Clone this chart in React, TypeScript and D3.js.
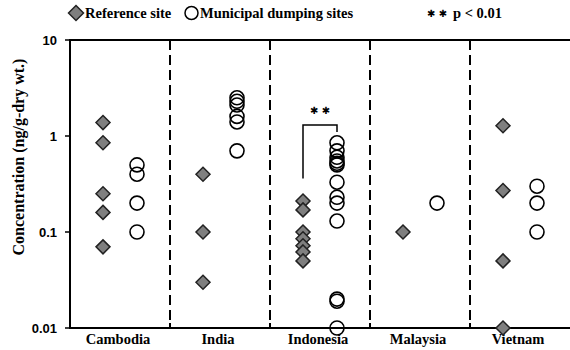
import * as d3 from 'd3';

const countries = ['Cambodia', 'India', 'Indonesia', 'Malaysia', 'Vietnam'];
const referenceValues = [
  [1.38, 0.85, 0.25, 0.16, 0.07],
  [0.4, 0.1, 0.03],
  [0.21, 0.17, 0.1, 0.085, 0.072, 0.062, 0.05],
  [0.1],
  [1.28, 0.27, 0.05, 0.01],
];
const municipalValues = [
  [0.5, 0.4, 0.2, 0.1],
  [2.5, 2.3, 2.1, 1.6, 1.4, 0.7],
  [0.85, 0.7, 0.6, 0.55, 0.52, 0.5, 0.33, 0.23, 0.2, 0.13, 0.02, 0.019, 0.01],
  [0.2],
  [0.3, 0.2, 0.1],
];
const yTicks = [0.01, 0.1, 1, 10];
const yTickLabels = ['0.01', '0.1', '1', '10'];
// significance bracket for Indonesia (values on the y scale)
const bracketCountry = 'Indonesia';
const bracketTop = 1.3;
const bracketLeftEnd = 0.36;
const bracketRightEnd = 1.1;
const starLevel = 1.85;

const width = 570;
const height = 350;
const margin = { top: 40, right: 0, bottom: 22, left: 70 };

const serif = '"Liberation Serif", "Times New Roman", serif';
const sans = '"Liberation Sans", Arial, sans-serif';

const diamond = (cx: number, cy: number, r: number) =>
  `M${cx},${cy - r}L${cx + r},${cy}L${cx},${cy + r}L${cx - r},${cy}Z`;

export default function App() {
  const x = d3
    .scaleBand<string>()
    .domain(countries)
    .range([margin.left, width - margin.right]);
  const y = d3
    .scaleLog()
    .domain([0.01, 10])
    .range([height - margin.bottom, margin.top]);

  const bw = x.bandwidth();
  const off = 17;
  const dividers = countries.slice(1).map((c) => x(c)!);
  const bx = x(bracketCountry)! + bw / 2;

  return (
    <svg width={width} height={height} style={{ position: 'absolute', left: 0, top: 0 }}>
      <rect width={width} height={height} fill="#fff" />

      {/* legend */}
      <path d={diamond(76, 13, 7.5)} fill="#7f7f7f" stroke="#222" strokeWidth={1.5} />
      <text x={85} y={18} fontFamily={serif} fontWeight="bold" fontSize={14.5}>
        Reference site
      </text>
      <circle cx={191.5} cy={13} r={6.5} fill="none" stroke="#000" strokeWidth={1.5} />
      <text x={200} y={18} fontFamily={serif} fontWeight="bold" fontSize={14.5}>
        Municipal dumping sites
      </text>
      <text x={427} y={17} fontFamily='"DejaVu Sans", sans-serif' fontSize={10} fontWeight="bold">
        ✱ ✱
      </text>
      <text x={453} y={18} fontFamily={serif} fontWeight="bold" fontSize={14.5}>
        p &lt; 0.01
      </text>

      {/* dashed dividers */}
      {dividers.map((dx, i) => (
        <g key={i}>
          <line
            x1={dx}
            x2={dx}
            y1={y(10)}
            y2={y(0.01)}
            stroke="#000"
            strokeWidth={2}
            strokeDasharray="10,5"
          />
          <line x1={dx} x2={dx} y1={y(0.01) - 5} y2={y(0.01)} stroke="#000" strokeWidth={2} />
        </g>
      ))}

      {/* axes frame */}
      <line x1={margin.left} x2={width} y1={y(10)} y2={y(10)} stroke="#000" strokeWidth={2} />
      <line x1={margin.left} x2={width} y1={y(0.01)} y2={y(0.01)} stroke="#000" strokeWidth={2} />
      <line x1={margin.left} x2={margin.left} y1={y(10) - 1} y2={y(0.01) + 1} stroke="#000" strokeWidth={2} />

      {yTicks.map((t, i) => (
        <g key={t}>
          <line x1={margin.left - 5} x2={margin.left} y1={y(t)} y2={y(t)} stroke="#000" strokeWidth={1.5} />
          <text
            x={margin.left - 13}
            y={y(t)}
            dy="0.35em"
            textAnchor="end"
            fontFamily={sans}
            fontWeight="bold"
            fontSize={13}
          >
            {yTickLabels[i]}
          </text>
        </g>
      ))}

      <text
        transform={`translate(24,157) rotate(-90)`}
        textAnchor="middle"
        fontFamily={serif}
        fontWeight="bold"
        fontSize={16}
      >
        Concentration (ng/g-dry wt.)
      </text>

      {countries.map((c) => (
        <text
          key={c}
          x={x(c)! + bw / 2 - 2}
          y={height - 6}
          textAnchor="middle"
          fontFamily={serif}
          fontWeight="bold"
          fontSize={14.5}
        >
          {c}
        </text>
      ))}

      {/* significance bracket */}
      <path
        d={`M${bx - off},${y(bracketLeftEnd)}V${y(bracketTop)}H${bx + off}V${y(bracketRightEnd)}`}
        fill="none"
        stroke="#000"
        strokeWidth={1.5}
      />
      <text
        x={bx}
        y={y(starLevel)}
        dy="0.35em"
        textAnchor="middle"
        fontFamily='"DejaVu Sans", sans-serif'
        fontSize={10}
        fontWeight="bold"
      >
        ✱ ✱
      </text>

      {/* markers */}
      {countries.map((c, i) => {
        const cx = x(c)! + bw / 2;
        return (
          <g key={c}>
            {referenceValues[i].map((v, j) => (
              <path
                key={'r' + j}
                d={diamond(cx - off, y(v), 7)}
                fill="#7f7f7f"
                stroke="#222"
                strokeWidth={1.5}
              />
            ))}
            {municipalValues[i].map((v, j) => (
              <circle key={'m' + j} cx={cx + off} cy={y(v)} r={7} fill="none" stroke="#000" strokeWidth={1.6} />
            ))}
          </g>
        );
      })}
    </svg>
  );
}
